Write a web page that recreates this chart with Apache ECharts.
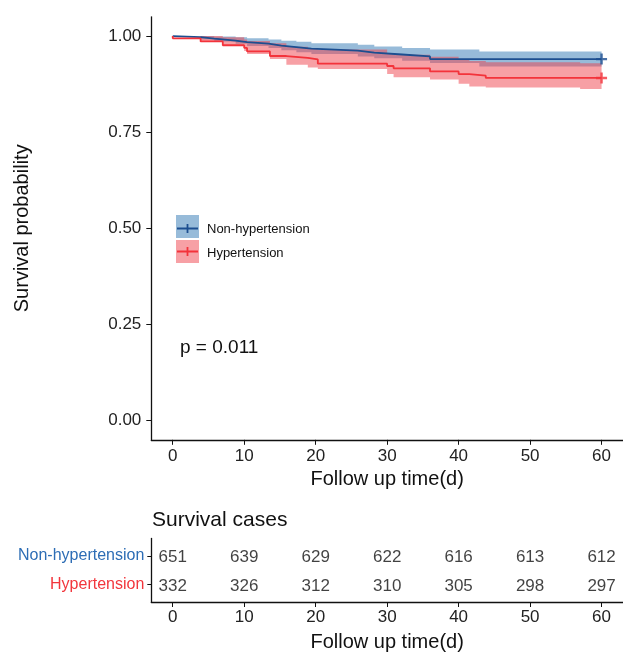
<!DOCTYPE html>
<html><head><meta charset="utf-8">
<script src="https://cdn.jsdelivr.net/npm/echarts@6/dist/echarts.min.js"></script>
<style>html,body{margin:0;padding:0;background:#fff}#c{width:623px;height:653px}</style>
</head><body><div id="c"></div>
<script>
// ---- data ----
const groupNames = ['Non-hypertension', 'Hypertension'];
const timeNon  = [0, 3.9, 5.8, 8.8, 10.4, 13.4, 15.2, 17.3, 19.4, 25.9, 28.2, 32.1, 36.0, 42.9, 60];
const survNon  = [1.000, 0.997, 0.993, 0.988, 0.984, 0.980, 0.975, 0.971, 0.967, 0.962, 0.957, 0.952, 0.947, 0.940, 0.940];
const upperNon = [1.000, 1.000, 0.999, 0.997, 0.994, 0.991, 0.988, 0.985, 0.981, 0.977, 0.973, 0.969, 0.965, 0.960, 0.960];
const lowerNon = [1.000, 0.991, 0.986, 0.980, 0.974, 0.969, 0.963, 0.958, 0.953, 0.947, 0.942, 0.936, 0.930, 0.921, 0.921];
const timeHyp  = [0, 3.9, 7.0, 10.0, 10.4, 13.6, 15.9, 18.9, 20.3, 30.0, 30.9, 36.0, 40.0, 41.5, 43.8, 57.0, 60];
const survHyp  = [1.000, 0.994, 0.986, 0.976, 0.969, 0.960, 0.948, 0.943, 0.939, 0.928, 0.922, 0.916, 0.908, 0.901, 0.897, 0.891, 0.891];
const upperHyp = [1.000, 1.000, 0.997, 0.991, 0.987, 0.981, 0.972, 0.968, 0.965, 0.956, 0.951, 0.946, 0.940, 0.935, 0.932, 0.929, 0.929];
const lowerHyp = [1.000, 0.986, 0.974, 0.961, 0.953, 0.940, 0.925, 0.918, 0.914, 0.901, 0.893, 0.887, 0.876, 0.869, 0.866, 0.862, 0.862];
const censorTimes = [60];
const riskTimes = [0, 10, 20, 30, 40, 50, 60];
const riskNon = [651, 639, 629, 622, 616, 613, 612];
const riskHyp = [332, 326, 312, 310, 305, 298, 297];
const xTicks = [0, 10, 20, 30, 40, 50, 60];
const yTicks = [0, 0.25, 0.5, 0.75, 1];
const pText = 'p = 0.011';

// ---- style ----
const BLUE_LINE = '#1c4e90', BLUE_FILL = '#2f77b3';
const RED_LINE = '#f3333b', RED_FILL = '#ef424c';
const FONT = 'Liberation Sans, Arial, sans-serif';
const PLUS = 'path://M0,3.9H10V6.1H0ZM3.9,0H6.1V10H3.9Z';

function pts(t, v) { return t.map((x, i) => [x, v[i]]); }
function lineSeries(name, t, v, color) {
  return { type: 'line', name, xAxisIndex: 0, yAxisIndex: 0, data: pts(t, v), step: 'start',
    showSymbol: false, symbol: 'none', silent: true, lineStyle: { color, width: 1.8 }, z: 2 };
}
function bandSeries(t, lo, hi, color) {
  return { type: 'custom', xAxisIndex: 0, yAxisIndex: 0, silent: true, z: 2, data: [[t[0], hi[0]]],
    renderItem: (params, api) => {
      const p = [];
      for (let i = 0; i < t.length - 1; i++) { p.push(api.coord([t[i], hi[i]]), api.coord([t[i + 1], hi[i]])); }
      for (let i = t.length - 2; i >= 0; i--) { p.push(api.coord([t[i + 1], lo[i]]), api.coord([t[i], lo[i]])); }
      return { type: 'polygon', shape: { points: p }, style: { fill: color, opacity: 0.5 } };
    } };
}
function censor(t, times, surv, color) {
  return { type: 'scatter', xAxisIndex: 0, yAxisIndex: 0, symbol: PLUS, symbolSize: 11, silent: true,
    data: t.map(c => { let s = surv[0]; times.forEach((x, i) => { if (x <= c) s = surv[i]; }); return [c, s]; }),
    itemStyle: { color }, z: 3 };
}
function riskSeries(row, counts) {
  return { type: 'scatter', xAxisIndex: 1, yAxisIndex: 1, symbol: 'rect', symbolSize: 1, silent: true,
    itemStyle: { color: 'transparent' },
    data: riskTimes.map((t, i) => [t, row, counts[i]]),
    label: { show: true, position: 'inside', offset: [0, 1.5], formatter: p => p.value[2], fontSize: 17, color: '#111', fontFamily: FONT } };
}

const axisLine = { onZero: false, lineStyle: { color: '#111', width: 1.3 } };
const chart = echarts.init(document.getElementById('c'), null, { renderer: 'canvas' });
chart.setOption({
  animation: false,
  textStyle: { fontFamily: FONT },
  title: { text: 'Survival cases', left: 147, top: 505, textStyle: { fontSize: 21, fontWeight: 'normal', color: '#111', fontFamily: FONT } },
  grid: [
    { left: 151.3, top: 16.8, width: 477, height: 423 },
    { left: 151.3, top: 538.5, width: 477, height: 64 }
  ],
  xAxis: [
    { type: 'value', gridIndex: 0, min: -3, max: 63, axisLine,
      axisTick: { customValues: xTicks, length: 5, lineStyle: { color: '#111' } },
      axisLabel: { customValues: xTicks, fontSize: 17, color: '#222', margin: 8 },
      splitLine: { show: false },
      name: 'Follow up time(d)', nameLocation: 'middle', nameGap: 30,
      nameTextStyle: { fontSize: 20, color: '#111', fontFamily: FONT } },
    { type: 'value', gridIndex: 1, min: -3, max: 63, axisLine,
      axisTick: { customValues: xTicks, length: 5, lineStyle: { color: '#111' } },
      axisLabel: { customValues: xTicks, fontSize: 17, color: '#222', margin: 7 },
      splitLine: { show: false },
      name: 'Follow up time(d)', nameLocation: 'middle', nameGap: 30,
      nameTextStyle: { fontSize: 20, color: '#111', fontFamily: FONT } }
  ],
  yAxis: [
    { type: 'value', gridIndex: 0, min: -0.05, max: 1.05, axisLine: Object.assign({ show: true }, axisLine),
      axisTick: { show: true, customValues: yTicks, length: 5, lineStyle: { color: '#111' } },
      axisLabel: { customValues: yTicks, formatter: v => v.toFixed(2), fontSize: 17, color: '#222', margin: 10 },
      splitLine: { show: false },
      name: 'Survival probability', nameLocation: 'middle', nameGap: 119,
      nameTextStyle: { fontSize: 20, color: '#111', fontFamily: FONT } },
    { type: 'value', gridIndex: 1, min: 0.4, max: 2.6, axisLine: Object.assign({ show: true }, axisLine),
      axisTick: { show: true, customValues: [1, 2], length: 4, lineStyle: { color: '#111' } },
      axisLabel: { customValues: [1, 2], margin: 7,
        formatter: v => v === 2 ? '{a|' + groupNames[0] + '}' : '{b|' + groupNames[1] + '}',
        rich: { a: { color: '#2d6db5', fontSize: 16, fontFamily: FONT }, b: { color: '#f2363c', fontSize: 16, fontFamily: FONT } } },
      splitLine: { show: false } }
  ],
  series: [
    lineSeries(groupNames[0], timeNon, survNon, BLUE_LINE),
    lineSeries(groupNames[1], timeHyp, survHyp, RED_LINE),
    bandSeries(timeNon, lowerNon, upperNon, BLUE_FILL),
    bandSeries(timeHyp, lowerHyp, upperHyp, RED_FILL),
    censor(censorTimes, timeNon, survNon, BLUE_LINE),
    censor(censorTimes, timeHyp, survHyp, RED_LINE),
    riskSeries(2, riskNon),
    riskSeries(1, riskHyp)
  ],
  graphic: [
    { type: 'rect', shape: { x: 176, y: 215, width: 23, height: 23 }, style: { fill: BLUE_FILL, opacity: 0.5 } },
    { type: 'line', shape: { x1: 177, y1: 228.5, x2: 198, y2: 228.5 }, style: { stroke: BLUE_LINE, lineWidth: 2 } },
    { type: 'line', shape: { x1: 187.5, y1: 224, x2: 187.5, y2: 233 }, style: { stroke: BLUE_LINE, lineWidth: 1.8 } },
    { type: 'text', x: 207, y: 229, style: { text: groupNames[0], fill: '#111', font: '13px ' + FONT, verticalAlign: 'middle' } },
    { type: 'rect', shape: { x: 176, y: 240, width: 23, height: 23 }, style: { fill: RED_FILL, opacity: 0.5 } },
    { type: 'line', shape: { x1: 177, y1: 251.5, x2: 198, y2: 251.5 }, style: { stroke: RED_LINE, lineWidth: 2 } },
    { type: 'line', shape: { x1: 187.5, y1: 247, x2: 187.5, y2: 256 }, style: { stroke: RED_LINE, lineWidth: 1.8 } },
    { type: 'text', x: 207, y: 253, style: { text: groupNames[1], fill: '#111', font: '13px ' + FONT, verticalAlign: 'middle' } },
    { type: 'text', x: 180, y: 348, style: { text: pText, fill: '#111', font: '19px ' + FONT, verticalAlign: 'middle' } }
  ]
});
</script>
</body></html>
